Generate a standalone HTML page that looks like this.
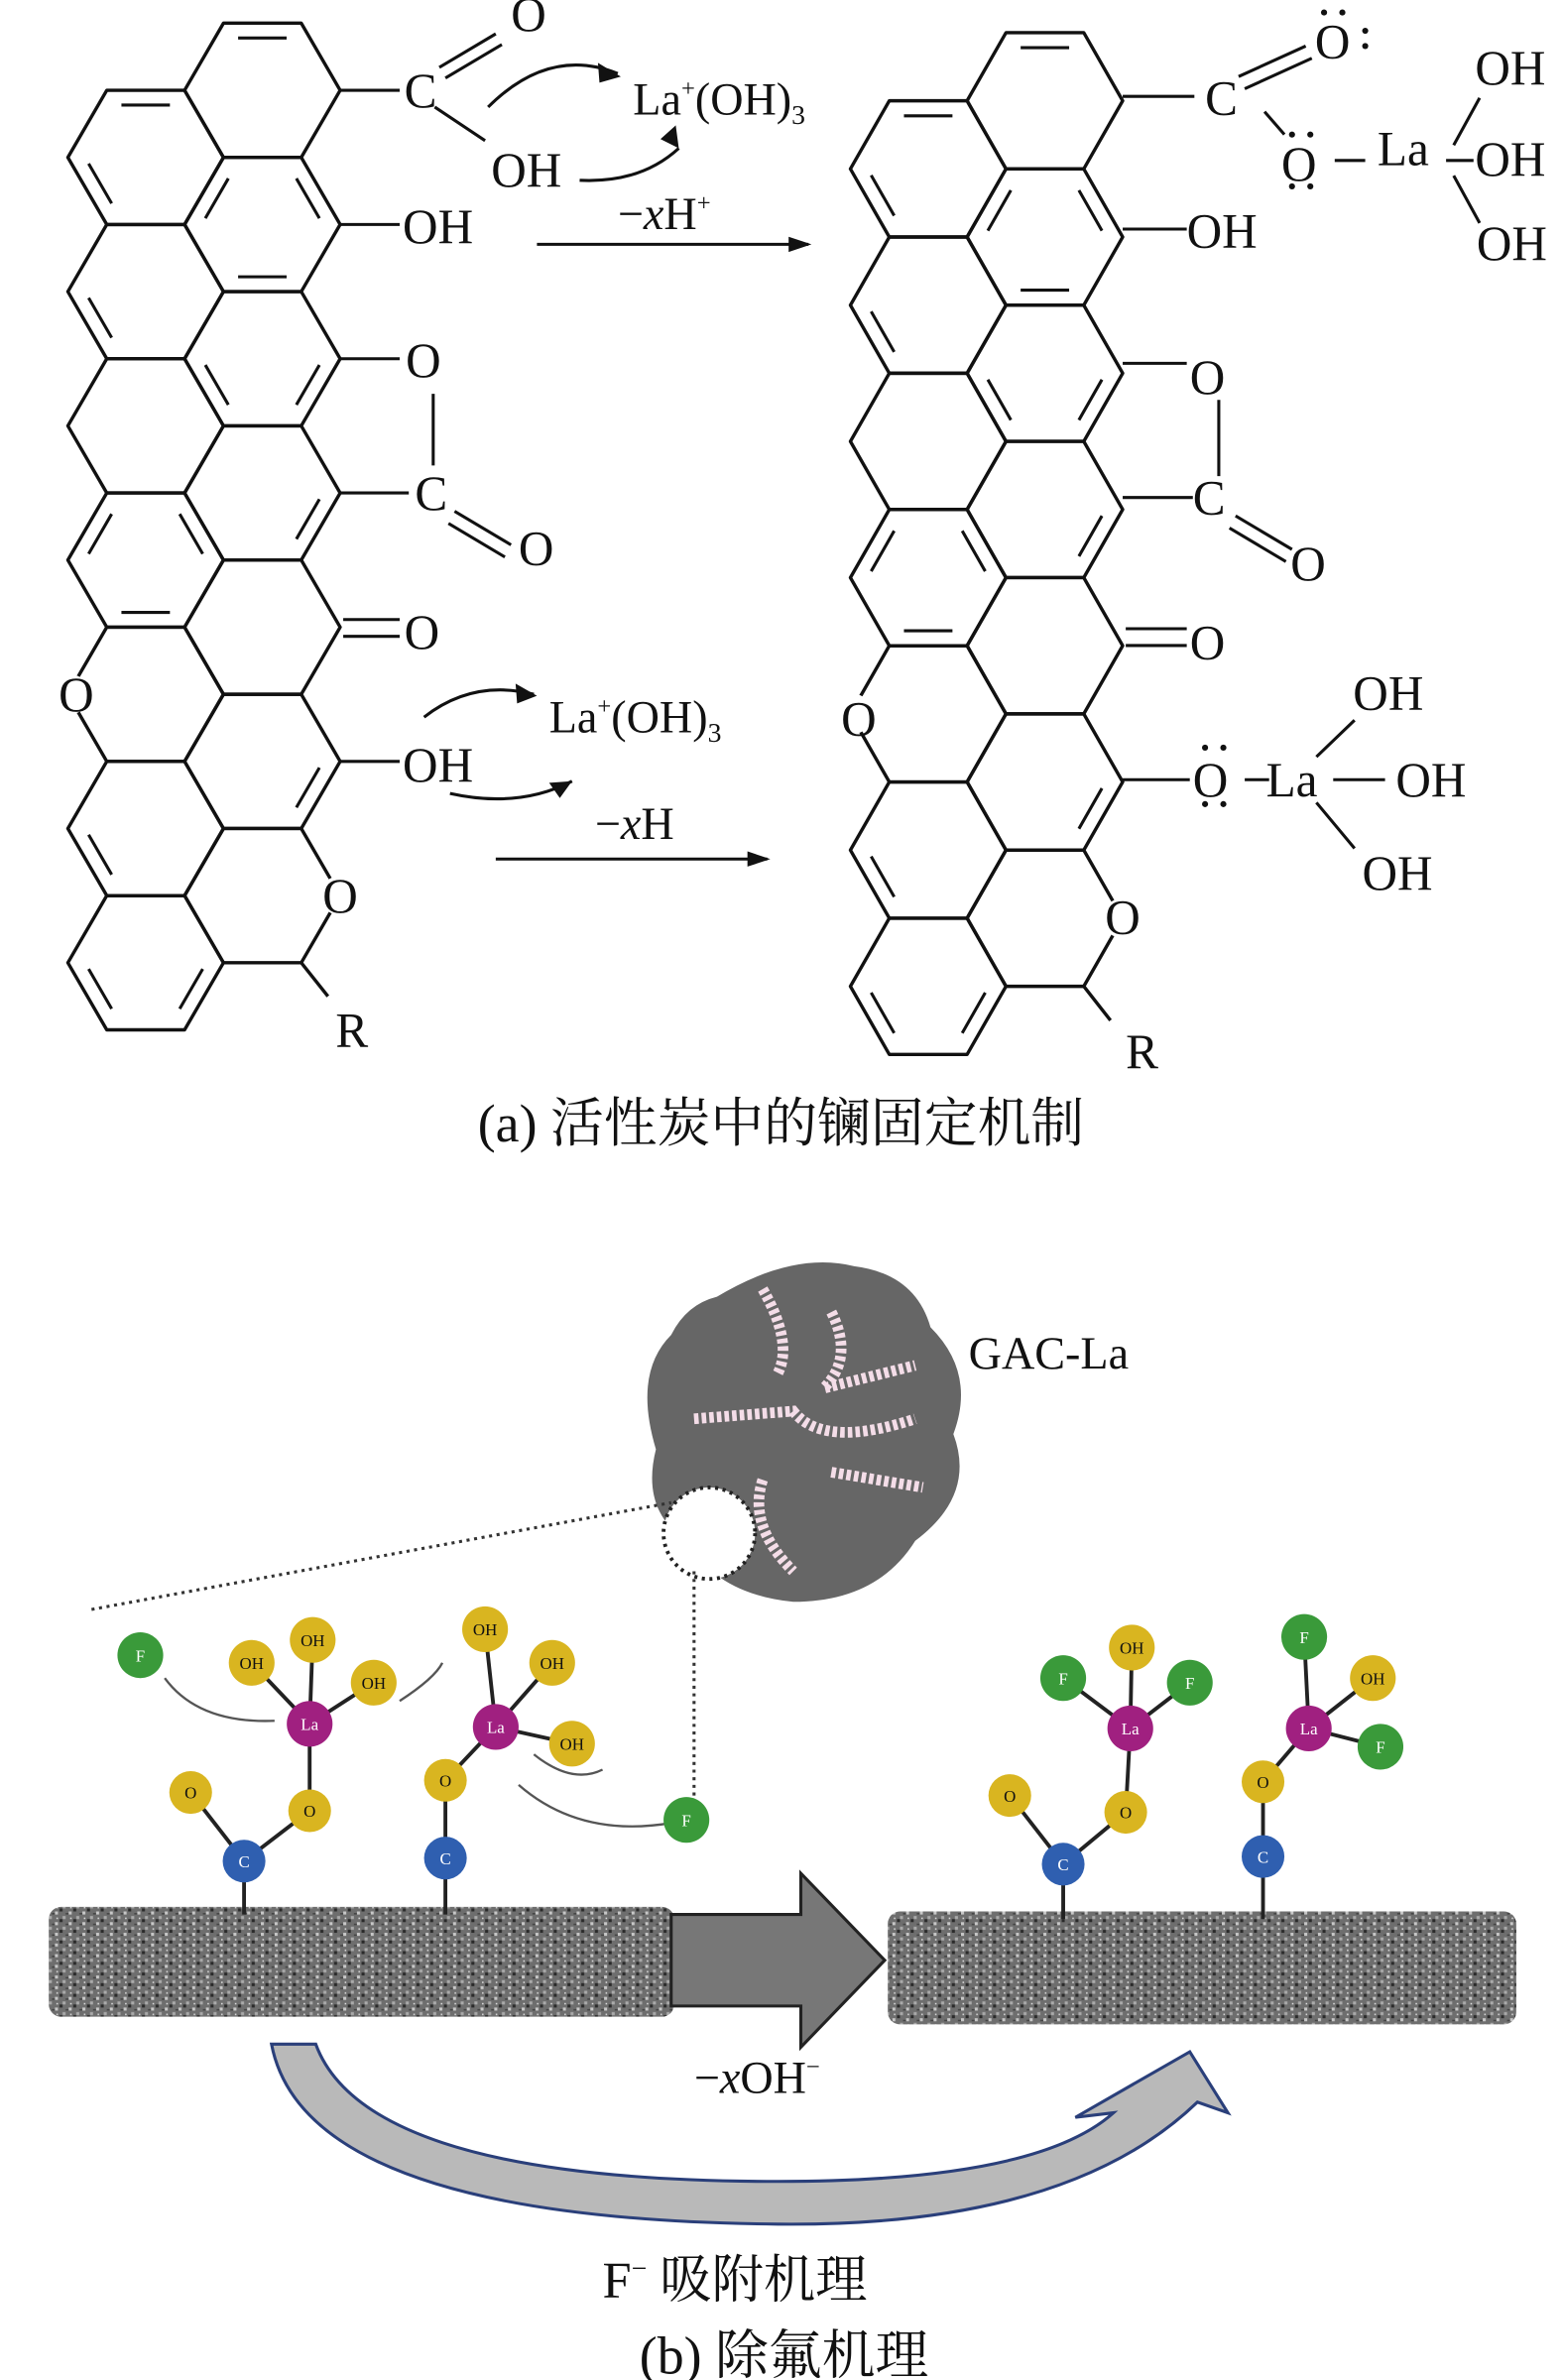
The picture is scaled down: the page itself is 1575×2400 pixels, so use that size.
<!DOCTYPE html>
<html><head><meta charset="utf-8"><style>
html,body{margin:0;padding:0;background:#fff}
svg{display:block}
text{font-family:"Liberation Serif","Noto Serif CJK SC",serif;fill:#111}
</style></head><body>
<svg width="1575" height="2400" viewBox="0 0 1024 1560" xmlns="http://www.w3.org/2000/svg">
<defs>
<polygon id="h" points="-51,0 -25.5,-44 25.5,-44 51,0 25.5,44 -25.5,44" fill="none" stroke="#111" stroke-width="2.2" stroke-linejoin="round"/>
<path id="it" d="M-15.9,-34.3 H15.9" stroke="#111" stroke-width="2"/>
<path id="ib" d="M-15.9,34.3 H15.9" stroke="#111" stroke-width="2"/>
<path id="iul" d="M-37.4,-4.1 L-22.3,-30.2" stroke="#111" stroke-width="2"/>
<path id="ill" d="M-37.4,4.1 L-22.3,30.2" stroke="#111" stroke-width="2"/>
<path id="iur" d="M37.4,-4.1 L22.3,-30.2" stroke="#111" stroke-width="2"/>
<path id="ilr" d="M37.4,4.1 L22.3,30.2" stroke="#111" stroke-width="2"/>
<g id="mol">
<use href="#h" x="172" y="59"/><use href="#h" x="172" y="147"/><use href="#h" x="95.5" y="103"/>
<use href="#h" x="95.5" y="191"/><use href="#h" x="172" y="235"/><use href="#h" x="95.5" y="279"/>
<use href="#h" x="172" y="323"/><use href="#h" x="95.5" y="367"/><use href="#h" x="172" y="411"/>
<use href="#h" x="95.5" y="455"/><use href="#h" x="172" y="499"/><use href="#h" x="95.5" y="543"/>
<use href="#h" x="172" y="587"/><use href="#h" x="95.5" y="631"/>
<use href="#it" x="172" y="59"/>
<use href="#it" x="95.5" y="103"/><use href="#ill" x="95.5" y="103"/>
<use href="#iul" x="172" y="147"/><use href="#iur" x="172" y="147"/><use href="#ib" x="172" y="147"/>
<use href="#ill" x="95.5" y="191"/>
<use href="#ill" x="172" y="235"/><use href="#ilr" x="172" y="235"/>
<use href="#ilr" x="172" y="323"/>
<use href="#iul" x="95.5" y="367"/><use href="#iur" x="95.5" y="367"/><use href="#ib" x="95.5" y="367"/>
<use href="#ilr" x="172" y="499"/>
<use href="#ill" x="95.5" y="543"/>
<use href="#ill" x="95.5" y="631"/><use href="#ilr" x="95.5" y="631"/>
<g fill="#fff"><circle cx="46" cy="455" r="13"/><circle cx="223" cy="587" r="13"/></g>
<path d="M197.5,631 L215,653" stroke="#111" stroke-width="2.2"/>
</g>
<pattern id="tex" width="9" height="7" patternUnits="userSpaceOnUse">
<rect width="9" height="7" fill="#6e6e6e"/>
<rect x="0" y="0" width="2" height="2" fill="#c8c8c8"/><rect x="5" y="3" width="2" height="2" fill="#aaa"/>
<rect x="3" y="5" width="2" height="2" fill="#2a2a2a"/><rect x="7" y="1" width="2" height="1" fill="#444"/><rect x="1" y="4" width="1" height="1" fill="#ddd"/>
</pattern>
</defs>
<use href="#mol"/>
<g font-size="32">
<text x="50" y="466" text-anchor="middle">O</text><text x="223" y="598" text-anchor="middle">O</text>
</g>
<g stroke="#111" stroke-width="2" fill="none">
<path d="M223,59 L262,59 M288,44 L325,22 M292,51 L329,29 M285,70 L318,92 M223,147 L262,147 M223,235 L262,235 M284,258 L284,305 M223,323 L268,323 M298,335 L335,357 M294,343 L331,365 M225,406 L262,406 M225,417 L262,417 M223,499 L262,499"/>
<path d="M320,70 Q360,30 405,48"/><path d="M380,118 Q420,120 445,97"/>
<path d="M278,470 Q310,445 350,455"/><path d="M295,520 Q340,530 375,512"/>
<path d="M352,160 L530,160 M325,563 L503,563"/>
<path d="M829,73 L842,88 M875,105 L895,105 M953,95 L970,64 M948,105 L966,105 M953,115 L970,146 M816,511 L832,511 M874,511 L908,511 M863,496 L888,472 M863,526 L888,556"/>
<path d="M736,63 L783,63 M812,50 L856,30 M816,58 L860,38 M736,150 L778,150 M736,238 L778,238 M799,262 L799,312 M736,326 L782,326 M810,338 L847,360 M806,346 L843,368 M738,412 L778,412 M738,423 L778,423 M736,511 L780,511"/>
</g>
<g fill="#111"><path d="M407,50 l-15,-9 l1,13z M445,97 l-2,-15 l-10,9z M352,456 l-14,-8 l1,13z M375,512 l-15,1 l7,10z M532,160 l-15,-5 v10z M505,563 l-15,-5 v10z"/></g>
<g font-size="32">
<text x="265" y="70">C</text><text x="335" y="20">O</text><text x="322" y="122">OH</text>
<text x="264" y="159">OH</text><text x="266" y="247">O</text><text x="272" y="334">C</text>
<text x="340" y="370">O</text><text x="265" y="425">O</text>
<text x="264" y="512">OH</text><text x="220" y="686">R</text>
<text x="415" y="75" font-size="30">La<tspan font-size="16" dy="-12">+</tspan><tspan dy="12">(OH)</tspan><tspan font-size="18" dy="6">3</tspan></text>
<text x="360" y="480" font-size="30">La<tspan font-size="16" dy="-12">+</tspan><tspan dy="12">(OH)</tspan><tspan font-size="18" dy="6">3</tspan></text>
<text x="405" y="150" font-size="30">−<tspan font-style="italic">x</tspan>H<tspan font-size="16" dy="-12">+</tspan></text>
<text x="390" y="550" font-size="30">−<tspan font-style="italic">x</tspan>H</text>
</g>
<g transform="translate(513,6) scale(1,1.015)"><use href="#mol"/></g>
<g font-size="32">
<text x="563" y="482" text-anchor="middle">O</text><text x="736" y="612" text-anchor="middle">O</text>
<text x="790" y="75">C</text><text x="862" y="38">O</text><text x="840" y="118">O</text>
<text x="903" y="108">La</text><text x="967" y="55">OH</text><text x="967" y="115">OH</text><text x="968" y="170">OH</text>
<text x="778" y="162">OH</text><text x="780" y="258">O</text><text x="782" y="337">C</text><text x="846" y="380">O</text>
<text x="780" y="432">O</text><text x="782" y="522">O</text><text x="830" y="522">La</text>
<text x="887" y="465">OH</text><text x="915" y="522">OH</text><text x="893" y="583">OH</text>
<text x="738" y="700">R</text>
</g>
<g fill="#111"><circle cx="868" cy="8" r="2"/><circle cx="880" cy="8" r="2"/><circle cx="895" cy="20" r="2"/><circle cx="895" cy="30" r="2"/>
<circle cx="847" cy="88" r="2"/><circle cx="859" cy="88" r="2"/><circle cx="847" cy="122" r="2"/><circle cx="859" cy="122" r="2"/>
<circle cx="790" cy="490" r="2"/><circle cx="802" cy="490" r="2"/><circle cx="790" cy="527" r="2"/><circle cx="802" cy="527" r="2"/></g>
<text x="512" y="748" font-size="35" text-anchor="middle">(a) 活性炭中的镧固定机制</text>
<path d="M470,850 Q520,820 560,830 Q600,835 610,870 Q640,900 625,940 Q640,980 600,1010 Q575,1050 520,1050 Q470,1045 450,1010 Q420,990 430,950 Q415,900 440,875 Q450,855 470,850z" fill="#666"/>
<path d="M500,845 Q520,880 510,900 M545,860 Q560,890 540,910 L600,895 M455,930 L520,925 Q540,950 600,930 M545,965 L605,975 M500,970 Q490,1000 520,1030" stroke="#f4dde8" stroke-width="7" fill="none" stroke-dasharray="3 2"/>
<circle cx="465" cy="1005" r="30" fill="#fff" stroke="#222" stroke-width="2.5" stroke-dasharray="2 3"/>
<text x="635" y="897" font-size="30">GAC-La</text>
<path d="M60,1055 L440,985 M455,1030 L455,1180" stroke="#333" stroke-width="2" fill="none" stroke-dasharray="2 3"/>
<rect x="32" y="1250" width="410" height="72" fill="url(#tex)" rx="8"/>
<rect x="582" y="1253" width="412" height="74" fill="url(#tex)" rx="8"/>
<path d="M440,1255 L525,1255 L525,1228 L580,1285 L525,1342 L525,1315 L440,1315 z" fill="#777" stroke="#222" stroke-width="2"/>
<path d="M178,1340 L207,1340 Q240,1430 510,1430 Q680,1430 730,1385 L705,1388 L780,1345 L805,1385 L785,1378 Q700,1460 510,1458 Q200,1455 178,1340z" fill="#b9b9b9" stroke="#2a3f7a" stroke-width="2"/>
<text x="455" y="1372" font-size="30">−<tspan font-style="italic">x</tspan>OH<tspan font-size="16" dy="-12">−</tspan></text>
<text x="395" y="1506" font-size="34">F<tspan font-size="18" dy="-13">−</tspan><tspan dy="13"> 吸附机理</tspan></text>
<text x="514" y="1556" font-size="35" text-anchor="middle">(b) 除氟机理</text>
<g stroke="#222" stroke-width="2.5" fill="none">
<path d="M160,1220 V1255 M160,1220 L125,1175 M160,1220 L203,1187 L203,1130 L165,1090 M203,1130 L205,1075 M203,1130 L245,1103"/>
<path d="M292,1218 V1255 M292,1218 V1167 L325,1132 L318,1068 M325,1132 L362,1090 M325,1132 L375,1143"/>
<path d="M697,1222 V1258 M697,1222 L662,1177 M697,1222 L738,1188 L741,1133 L697,1100 M741,1133 L742,1080 M741,1133 L780,1103"/>
<path d="M828,1217 V1258 M828,1217 V1168 L858,1133 L855,1073 M858,1133 L900,1100 M858,1133 L905,1145"/>
</g>
<g fill="none" stroke="#555" stroke-width="1.5"><path d="M108,1100 Q130,1130 180,1128"/><path d="M262,1115 Q285,1100 290,1090"/><path d="M340,1170 Q380,1205 440,1195"/><path d="M350,1150 Q375,1170 395,1160"/></g>
<g fill="#2f5fb0"><circle cx="160" cy="1220" r="14"/><circle cx="292" cy="1218" r="14"/><circle cx="697" cy="1222" r="14"/><circle cx="828" cy="1217" r="14"/></g>
<g fill="#d9b520"><circle cx="125" cy="1175" r="14"/><circle cx="203" cy="1187" r="14"/><circle cx="165" cy="1090" r="15"/><circle cx="205" cy="1075" r="15"/><circle cx="245" cy="1103" r="15"/>
<circle cx="292" cy="1167" r="14"/><circle cx="318" cy="1068" r="15"/><circle cx="362" cy="1090" r="15"/><circle cx="375" cy="1143" r="15"/>
<circle cx="662" cy="1177" r="14"/><circle cx="738" cy="1188" r="14"/><circle cx="742" cy="1080" r="15"/><circle cx="828" cy="1168" r="14"/><circle cx="900" cy="1100" r="15"/></g>
<g fill="#a02080"><circle cx="203" cy="1130" r="15"/><circle cx="325" cy="1132" r="15"/><circle cx="741" cy="1133" r="15"/><circle cx="858" cy="1133" r="15"/></g>
<g fill="#3a9a3a"><circle cx="92" cy="1085" r="15"/><circle cx="450" cy="1193" r="15"/><circle cx="697" cy="1100" r="15"/><circle cx="780" cy="1103" r="15"/><circle cx="855" cy="1073" r="15"/><circle cx="905" cy="1145" r="15"/></g>
<g font-size="11" text-anchor="middle" font-family="Liberation Sans">
<text x="160" y="1224" style="fill:#fff">C</text><text x="292" y="1222" style="fill:#fff">C</text><text x="697" y="1226" style="fill:#fff">C</text><text x="828" y="1221" style="fill:#fff">C</text>
<text x="203" y="1134" style="fill:#fff">La</text><text x="325" y="1136" style="fill:#fff">La</text><text x="741" y="1137" style="fill:#fff">La</text><text x="858" y="1137" style="fill:#fff">La</text>
<text x="92" y="1089" style="fill:#fff">F</text><text x="450" y="1197" style="fill:#fff">F</text><text x="697" y="1104" style="fill:#fff">F</text><text x="780" y="1107" style="fill:#fff">F</text><text x="855" y="1077" style="fill:#fff">F</text><text x="905" y="1149" style="fill:#fff">F</text>
<text x="125" y="1179">O</text><text x="203" y="1191">O</text><text x="165" y="1094">OH</text><text x="205" y="1079">OH</text><text x="245" y="1107">OH</text>
<text x="292" y="1171">O</text><text x="318" y="1072">OH</text><text x="362" y="1094">OH</text><text x="375" y="1147">OH</text>
<text x="662" y="1181">O</text><text x="738" y="1192">O</text><text x="742" y="1084">OH</text><text x="828" y="1172">O</text><text x="900" y="1104">OH</text>
</g>
</svg>
</body></html>
